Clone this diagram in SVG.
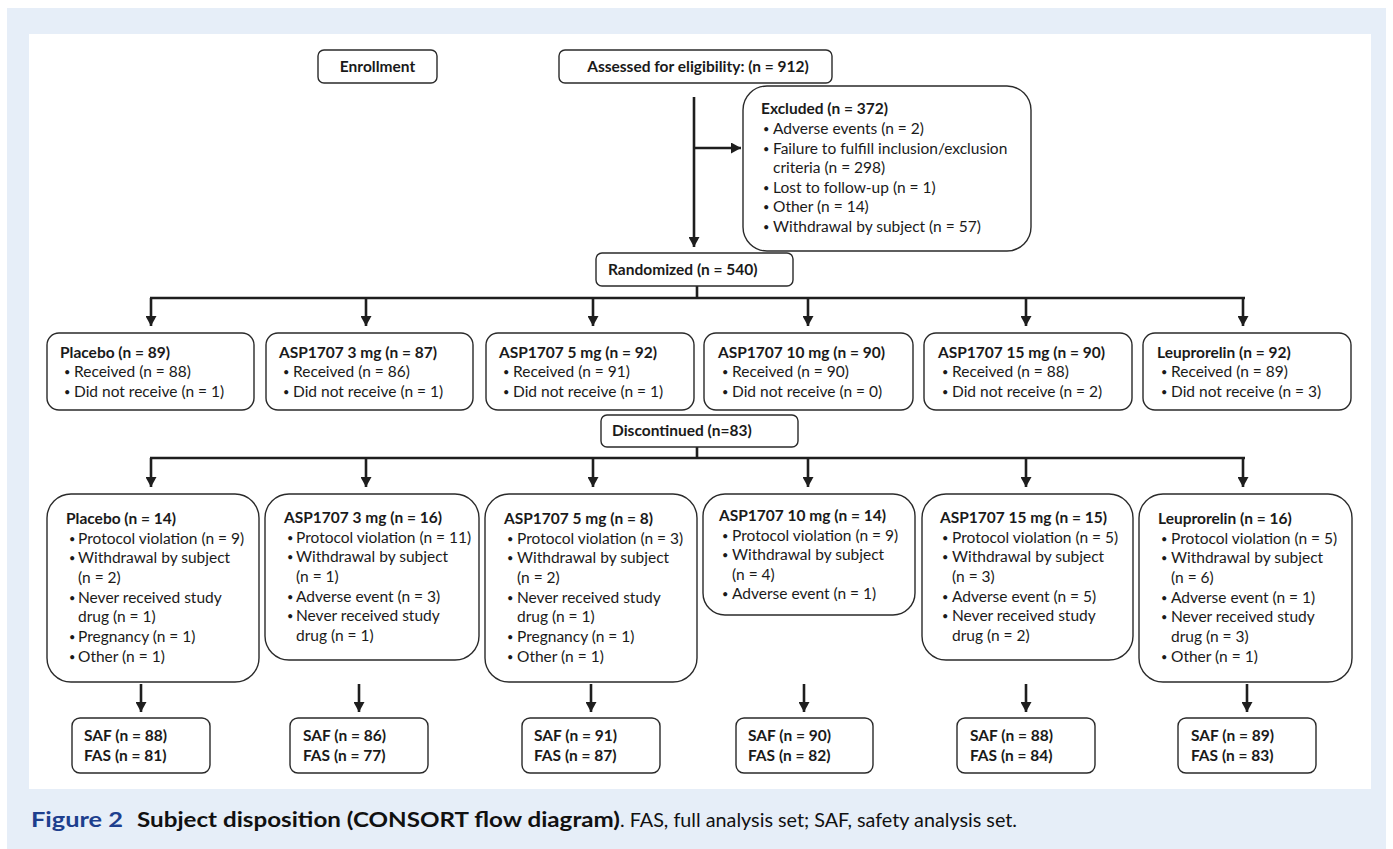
<svg xmlns="http://www.w3.org/2000/svg" width="1393" height="849" viewBox="0 0 1393 849">
<style>
.bg{fill:#e6eef8}
.panel{fill:#ffffff}
.box{fill:#ffffff;stroke:#2a2a2a;stroke-width:1.4}
.t{font-family:Lato,"Liberation Sans",sans-serif;font-size:15.5px;fill:#1a1a1a}
.u{font-family:Lato,"Liberation Sans",sans-serif;font-size:11px;fill:#1a1a1a}
.b{font-weight:700}
.conn{stroke:#1e1e1e;stroke-width:2.6;fill:none}
.cap{font-family:Lato,"Liberation Sans",sans-serif;font-size:20px;fill:#111}
</style>
<defs>
<marker id="arr" markerUnits="userSpaceOnUse" markerWidth="11" markerHeight="11" refX="10" refY="5.5" orient="auto">
<path d="M0,0 L10,5.5 L0,11 z" fill="#1e1e1e"/>
</marker>
</defs>
<rect class="bg" x="7" y="8" width="1379" height="841"/>
<rect class="panel" x="29" y="34" width="1342" height="755"/>

<g id="connectors">
<path class="conn" d="M694,97 V247" marker-end="url(#arr)"/>
<path class="conn" d="M694,148 H741" marker-end="url(#arr)"/>
<path class="conn" d="M697,286 V298 M150,298 H1245"/>
<path class="conn" d="M151,298 V326" marker-end="url(#arr)"/>
<path class="conn" d="M366,298 V326" marker-end="url(#arr)"/>
<path class="conn" d="M593,298 V326" marker-end="url(#arr)"/>
<path class="conn" d="M808,298 V326" marker-end="url(#arr)"/>
<path class="conn" d="M1026,298 V326" marker-end="url(#arr)"/>
<path class="conn" d="M1243,298 V326" marker-end="url(#arr)"/>
<path class="conn" d="M697,447 V458 M150,458 H1245"/>
<path class="conn" d="M151,458 V487" marker-end="url(#arr)"/>
<path class="conn" d="M366,458 V487" marker-end="url(#arr)"/>
<path class="conn" d="M593,458 V487" marker-end="url(#arr)"/>
<path class="conn" d="M808,458 V487" marker-end="url(#arr)"/>
<path class="conn" d="M1026,458 V487" marker-end="url(#arr)"/>
<path class="conn" d="M1243,458 V487" marker-end="url(#arr)"/>
<path class="conn" d="M141,684 V712" marker-end="url(#arr)"/>
<path class="conn" d="M359,684 V712" marker-end="url(#arr)"/>
<path class="conn" d="M591,684 V712" marker-end="url(#arr)"/>
<path class="conn" d="M804,684 V712" marker-end="url(#arr)"/>
<path class="conn" d="M1026,684 V712" marker-end="url(#arr)"/>
<path class="conn" d="M1247,684 V712" marker-end="url(#arr)"/>
</g>

<g id="enrollment">
<rect class="box" x="318" y="50" width="119" height="33" rx="6"/>
<text class="t b" x="377.5" y="72" text-anchor="middle">Enrollment</text>
</g>
<g id="assessed">
<rect class="box" x="559" y="50" width="273" height="33" rx="6"/>
<text class="t b" x="698" y="72" text-anchor="middle">Assessed for eligibility: (n = 912)</text>
</g>
<g id="excluded">
<rect class="box" x="743" y="86" width="288" height="165" rx="24"/>
<text class="t b" x="761" y="114">Excluded (n = 372)</text>
<text class="u" x="763" y="133">•</text><text class="t" x="773" y="134">Adverse events (n = 2)</text>
<text class="u" x="763" y="153">•</text><text class="t" x="773" y="154">Failure to fulfill inclusion/exclusion</text>
<text class="t" x="773" y="173">criteria (n = 298)</text>
<text class="u" x="763" y="192">•</text><text class="t" x="773" y="193">Lost to follow-up (n = 1)</text>
<text class="u" x="763" y="211">•</text><text class="t" x="773" y="212">Other (n = 14)</text>
<text class="u" x="763" y="231">•</text><text class="t" x="773" y="232">Withdrawal by subject (n = 57)</text>
</g>
<g id="randomized">
<rect class="box" x="596" y="253" width="197" height="33" rx="6"/>
<text class="t b" x="608" y="275">Randomized (n = 540)</text>
</g>

<g id="alloc-placebo">
<rect class="box" x="47" y="333" width="207" height="77" rx="12"/>
<text class="t b" x="60" y="358">Placebo (n = 89)</text>
<text class="u" x="64" y="376">•</text><text class="t" x="74" y="377">Received (n = 88)</text>
<text class="u" x="64" y="396">•</text><text class="t" x="74" y="397">Did not receive (n = 1)</text>
</g>
<g id="alloc-3mg">
<rect class="box" x="266" y="333" width="207" height="77" rx="12"/>
<text class="t b" x="279" y="358">ASP1707 3 mg (n = 87)</text>
<text class="u" x="283" y="376">•</text><text class="t" x="293" y="377">Received (n = 86)</text>
<text class="u" x="283" y="396">•</text><text class="t" x="293" y="397">Did not receive (n = 1)</text>
</g>
<g id="alloc-5mg">
<rect class="box" x="486" y="333" width="208" height="77" rx="12"/>
<text class="t b" x="499" y="358">ASP1707 5 mg (n = 92)</text>
<text class="u" x="503" y="376">•</text><text class="t" x="513" y="377">Received (n = 91)</text>
<text class="u" x="503" y="396">•</text><text class="t" x="513" y="397">Did not receive (n = 1)</text>
</g>
<g id="alloc-10mg">
<rect class="box" x="704" y="333" width="209" height="77" rx="12"/>
<text class="t b" x="718" y="358">ASP1707 10 mg (n = 90)</text>
<text class="u" x="722" y="376">•</text><text class="t" x="732" y="377">Received (n = 90)</text>
<text class="u" x="722" y="396">•</text><text class="t" x="732" y="397">Did not receive (n = 0)</text>
</g>
<g id="alloc-15mg">
<rect class="box" x="924" y="333" width="208" height="77" rx="12"/>
<text class="t b" x="938" y="358">ASP1707 15 mg (n = 90)</text>
<text class="u" x="942" y="376">•</text><text class="t" x="952" y="377">Received (n = 88)</text>
<text class="u" x="942" y="396">•</text><text class="t" x="952" y="397">Did not receive (n = 2)</text>
</g>
<g id="alloc-leuprorelin">
<rect class="box" x="1143" y="333" width="208" height="77" rx="12"/>
<text class="t b" x="1157" y="358">Leuprorelin (n = 92)</text>
<text class="u" x="1161" y="376">•</text><text class="t" x="1171" y="377">Received (n = 89)</text>
<text class="u" x="1161" y="396">•</text><text class="t" x="1171" y="397">Did not receive (n = 3)</text>
</g>

<g id="discontinued">
<rect class="box" x="601" y="415" width="197" height="32" rx="6"/>
<text class="t b" x="612" y="436">Discontinued (n=83)</text>
</g>

<g id="disc-placebo">
<rect class="box" x="47" y="494" width="212" height="188" rx="24"/>
<text class="t b" x="66" y="524">Placebo (n = 14)</text>
<text class="u" x="69" y="543">•</text><text class="t" x="78" y="544">Protocol violation (n = 9)</text>
<text class="u" x="69" y="562">•</text><text class="t" x="78" y="563">Withdrawal by subject</text>
<text class="t" x="78" y="583">(n = 2)</text>
<text class="u" x="69" y="602">•</text><text class="t" x="78" y="603">Never received study</text>
<text class="t" x="78" y="622">drug (n = 1)</text>
<text class="u" x="69" y="641">•</text><text class="t" x="78" y="642">Pregnancy (n = 1)</text>
<text class="u" x="69" y="661">•</text><text class="t" x="78" y="662">Other (n = 1)</text>
</g>
<g id="disc-3mg">
<rect class="box" x="265" y="494" width="214" height="166" rx="24"/>
<text class="t b" x="284" y="523">ASP1707 3 mg (n = 16)</text>
<text class="u" x="287" y="542">•</text><text class="t" x="296" y="543">Protocol violation (n = 11)</text>
<text class="u" x="287" y="561">•</text><text class="t" x="296" y="562">Withdrawal by subject</text>
<text class="t" x="296" y="582">(n = 1)</text>
<text class="u" x="287" y="601">•</text><text class="t" x="296" y="602">Adverse event (n = 3)</text>
<text class="u" x="287" y="620">•</text><text class="t" x="296" y="621">Never received study</text>
<text class="t" x="296" y="641">drug (n = 1)</text>
</g>
<g id="disc-5mg">
<rect class="box" x="485" y="494" width="212" height="188" rx="24"/>
<text class="t b" x="504" y="524">ASP1707 5 mg (n = 8)</text>
<text class="u" x="507" y="543">•</text><text class="t" x="517" y="544">Protocol violation (n = 3)</text>
<text class="u" x="507" y="562">•</text><text class="t" x="517" y="563">Withdrawal by subject</text>
<text class="t" x="517" y="583">(n = 2)</text>
<text class="u" x="507" y="602">•</text><text class="t" x="517" y="603">Never received study</text>
<text class="t" x="517" y="622">drug (n = 1)</text>
<text class="u" x="507" y="641">•</text><text class="t" x="517" y="642">Pregnancy (n = 1)</text>
<text class="u" x="507" y="661">•</text><text class="t" x="517" y="662">Other (n = 1)</text>
</g>
<g id="disc-10mg">
<rect class="box" x="703" y="494" width="212" height="121" rx="22"/>
<text class="t b" x="719" y="521">ASP1707 10 mg (n = 14)</text>
<text class="u" x="722" y="540">•</text><text class="t" x="732" y="541">Protocol violation (n = 9)</text>
<text class="u" x="722" y="559">•</text><text class="t" x="732" y="560">Withdrawal by subject</text>
<text class="t" x="732" y="580">(n = 4)</text>
<text class="u" x="722" y="598">•</text><text class="t" x="732" y="599">Adverse event (n = 1)</text>
</g>
<g id="disc-15mg">
<rect class="box" x="922" y="494" width="211" height="166" rx="24"/>
<text class="t b" x="940" y="523">ASP1707 15 mg (n = 15)</text>
<text class="u" x="942" y="542">•</text><text class="t" x="952" y="543">Protocol violation (n = 5)</text>
<text class="u" x="942" y="561">•</text><text class="t" x="952" y="562">Withdrawal by subject</text>
<text class="t" x="952" y="582">(n = 3)</text>
<text class="u" x="942" y="601">•</text><text class="t" x="952" y="602">Adverse event (n = 5)</text>
<text class="u" x="942" y="620">•</text><text class="t" x="952" y="621">Never received study</text>
<text class="t" x="952" y="641">drug (n = 2)</text>
</g>
<g id="disc-leuprorelin">
<rect class="box" x="1139" y="494" width="213" height="188" rx="24"/>
<text class="t b" x="1158" y="524">Leuprorelin (n = 16)</text>
<text class="u" x="1161" y="543">•</text><text class="t" x="1171" y="544">Protocol violation (n = 5)</text>
<text class="u" x="1161" y="562">•</text><text class="t" x="1171" y="563">Withdrawal by subject</text>
<text class="t" x="1171" y="583">(n = 6)</text>
<text class="u" x="1161" y="602">•</text><text class="t" x="1171" y="603">Adverse event (n = 1)</text>
<text class="u" x="1161" y="621">•</text><text class="t" x="1171" y="622">Never received study</text>
<text class="t" x="1171" y="642">drug (n = 3)</text>
<text class="u" x="1161" y="661">•</text><text class="t" x="1171" y="662">Other (n = 1)</text>
</g>

<g id="sets-placebo">
<rect class="box" x="72" y="718" width="138" height="55" rx="8"/>
<text class="t b" x="84" y="741">SAF (n = 88)</text>
<text class="t b" x="84" y="761">FAS (n = 81)</text>
</g>
<g id="sets-3mg">
<rect class="box" x="290" y="718" width="138" height="55" rx="8"/>
<text class="t b" x="303" y="741">SAF (n = 86)</text>
<text class="t b" x="303" y="761">FAS (n = 77)</text>
</g>
<g id="sets-5mg">
<rect class="box" x="522" y="718" width="138" height="55" rx="8"/>
<text class="t b" x="534" y="741">SAF (n = 91)</text>
<text class="t b" x="534" y="761">FAS (n = 87)</text>
</g>
<g id="sets-10mg">
<rect class="box" x="736" y="718" width="137" height="55" rx="8"/>
<text class="t b" x="748" y="741">SAF (n = 90)</text>
<text class="t b" x="748" y="761">FAS (n = 82)</text>
</g>
<g id="sets-15mg">
<rect class="box" x="957" y="718" width="138" height="55" rx="8"/>
<text class="t b" x="970" y="741">SAF (n = 88)</text>
<text class="t b" x="970" y="761">FAS (n = 84)</text>
</g>
<g id="sets-leuprorelin">
<rect class="box" x="1178" y="718" width="138" height="55" rx="8"/>
<text class="t b" x="1191" y="741">SAF (n = 89)</text>
<text class="t b" x="1191" y="761">FAS (n = 83)</text>
</g>

<g id="caption">
<text class="cap" x="31" y="827" font-weight="700" style="fill:#1d3f8e;font-size:21px" textLength="92" lengthAdjust="spacingAndGlyphs">Figure 2</text>
<text class="cap" x="137" y="827" font-weight="700" textLength="483" lengthAdjust="spacingAndGlyphs">Subject disposition (CONSORT flow diagram)</text>
<text class="cap" x="620" y="827" textLength="397" lengthAdjust="spacingAndGlyphs">. FAS, full analysis set; SAF, safety analysis set.</text>
</g>
</svg>
